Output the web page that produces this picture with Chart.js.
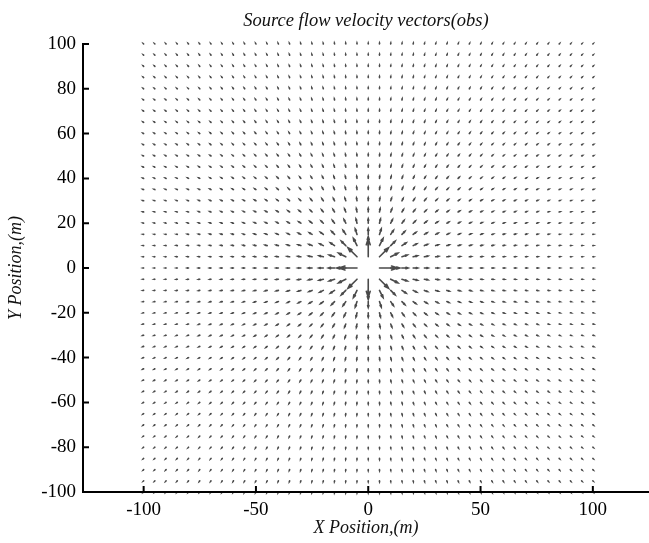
<!DOCTYPE html>
<html>
<head>
<meta charset="utf-8">
<title>Source flow velocity vectors</title>
<script src="https://cdn.jsdelivr.net/npm/chart.js@4.4.1/dist/chart.umd.min.js"></script>
<style>
    html, body { margin: 0; padding: 0; background: #fff; }
    #wrap { width: 649px; height: 543px; position: relative; }
</style>
</head>
<body>
<div id="wrap"><canvas id="quiverChart"></canvas></div>
<script>
// observation grid (m)
const gridX = [-100, -95, -90, -85, -80, -75, -70, -65, -60, -55, -50, -45, -40, -35, -30, -25, -20, -15, -10, -5, 0,
    5, 10, 15, 20, 25, 30, 35, 40, 45, 50, 55, 60, 65, 70, 75, 80, 85, 90, 95, 100];
const gridY = [-100, -95, -90, -85, -80, -75, -70, -65, -60, -55, -50, -45, -40, -35, -30, -25, -20, -15, -10, -5, 0,
    5, 10, 15, 20, 25, 30, 35, 40, 45, 50, 55, 60, 65, 70, 75, 80, 85, 90, 95, 100];

// source at the origin, strength as plotted (m^2/s, arrow scale included)
const sourceX = 0;
const sourceY = 0;
const sourceStrength = 40;

const xTicks = [-100, -50, 0, 50, 100];
const yTicks = [-100, -80, -60, -40, -20, 0, 20, 40, 60, 80, 100];

const chartTitle = 'Source flow velocity vectors(obs)';

// velocity of a 2D point source: radial, falling off as 1/r
function sourceVelocity(px, py) {
    const dx = px - sourceX, dy = py - sourceY;
    const r2 = dx * dx + dy * dy;
    if (r2 === 0) return null;
    return { u: sourceStrength * dx / r2, v: sourceStrength * dy / r2 };
}

const vectors = [];
gridY.forEach(py => {
    gridX.forEach(px => {
        const vel = sourceVelocity(px, py);
        if (vel) vectors.push({ x: px, y: py, u: vel.u, v: vel.v });
    });
});

const serif = "'Liberation Serif', 'Times New Roman', serif";

// arrows drawn like MATLAB quiver: shaft plus two short barbs
const quiverArrows = {
    id: 'quiverArrows',
    afterDatasetsDraw(chart) {
        const { ctx } = chart;
        const xs = chart.scales.x, ys = chart.scales.y;
        const alpha = 0.33, beta = 0.33;
        ctx.save();
        ctx.strokeStyle = '#4a4a4a';
        ctx.lineWidth = 1.6;
        ctx.lineCap = 'round';
        chart.data.datasets[0].data.forEach(p => {
            const tipX = p.x + p.u, tipY = p.y + p.v;
            const x0 = xs.getPixelForValue(p.x), y0 = ys.getPixelForValue(p.y);
            const x1 = xs.getPixelForValue(tipX), y1 = ys.getPixelForValue(tipY);
            const ax = xs.getPixelForValue(tipX - alpha * (p.u + beta * p.v));
            const ay = ys.getPixelForValue(tipY - alpha * (p.v - beta * p.u));
            const bx = xs.getPixelForValue(tipX - alpha * (p.u - beta * p.v));
            const by = ys.getPixelForValue(tipY - alpha * (p.v + beta * p.u));
            ctx.beginPath();
            ctx.moveTo(x0, y0);
            ctx.lineTo(x1, y1);
            ctx.moveTo(ax, ay);
            ctx.lineTo(x1, y1);
            ctx.lineTo(bx, by);
            ctx.stroke();
        });
        ctx.restore();
    }
};

// left/bottom axis lines with inward ticks, title centred over the plot
const axisLines = {
    id: 'axisLines',
    afterDraw(chart) {
        const { ctx, chartArea } = chart;
        const xs = chart.scales.x, ys = chart.scales.y;
        const len = 6;
        ctx.save();
        ctx.strokeStyle = '#000';
        ctx.lineWidth = 2;
        ctx.beginPath();
        ctx.moveTo(chartArea.left, chartArea.top - 1);
        ctx.lineTo(chartArea.left, chartArea.bottom);
        ctx.lineTo(chartArea.right, chartArea.bottom);
        xs.ticks.forEach(t => {
            const px = xs.getPixelForValue(t.value);
            ctx.moveTo(px, chartArea.bottom);
            ctx.lineTo(px, chartArea.bottom - len);
        });
        ys.ticks.forEach(t => {
            const py = ys.getPixelForValue(t.value);
            ctx.moveTo(chartArea.left, py);
            ctx.lineTo(chartArea.left + len, py);
        });
        ctx.stroke();

        ctx.fillStyle = '#111';
        ctx.font = 'italic 18.5px ' + serif;
        ctx.textAlign = 'center';
        ctx.textBaseline = 'middle';
        ctx.fillText(chartTitle, (chartArea.left + chartArea.right) / 2, chartArea.top - 23);
        ctx.restore();
    }
};

new Chart(document.getElementById('quiverChart'), {
    type: 'scatter',
    data: {
        datasets: [{
            label: 'velocity',
            data: vectors,
            pointRadius: 0,
            pointHoverRadius: 0
        }]
    },
    options: {
        responsive: true,
        maintainAspectRatio: false,
        animation: false,
        events: [],
        layout: { padding: { top: 44, right: 0, bottom: 0, left: 0 } },
        plugins: {
            legend: { display: false },
            tooltip: { enabled: false },
            title: { display: false }
        },
        scales: {
            x: {
                type: 'linear',
                min: -127,
                max: 125,
                afterBuildTicks: scale => { scale.ticks = xTicks.map(v => ({ value: v })); },
                afterFit: scale => { scale.height = 51; },
                grid: { display: false, drawTicks: false },
                border: { display: false },
                ticks: {
                    color: '#000',
                    padding: 7,
                    font: { family: serif, size: 19 }
                },
                title: {
                    display: true,
                    text: 'X Position,(m)',
                    color: '#111',
                    font: { family: serif, size: 18, style: 'italic' },
                    padding: { top: 0, bottom: 4 }
                }
            },
            y: {
                type: 'linear',
                min: -100,
                max: 100,
                afterBuildTicks: scale => { scale.ticks = yTicks.map(v => ({ value: v })); },
                afterFit: scale => { scale.width = 83; },
                grid: { display: false, drawTicks: false },
                border: { display: false },
                ticks: {
                    color: '#000',
                    padding: 7,
                    font: { family: serif, size: 19 }
                },
                title: {
                    display: true,
                    text: 'Y Position,(m)',
                    color: '#111',
                    font: { family: serif, size: 18, style: 'italic' },
                    padding: { top: 5, bottom: 2 }
                }
            }
        }
    },
    plugins: [quiverArrows, axisLines]
});
</script>
</body>
</html>
